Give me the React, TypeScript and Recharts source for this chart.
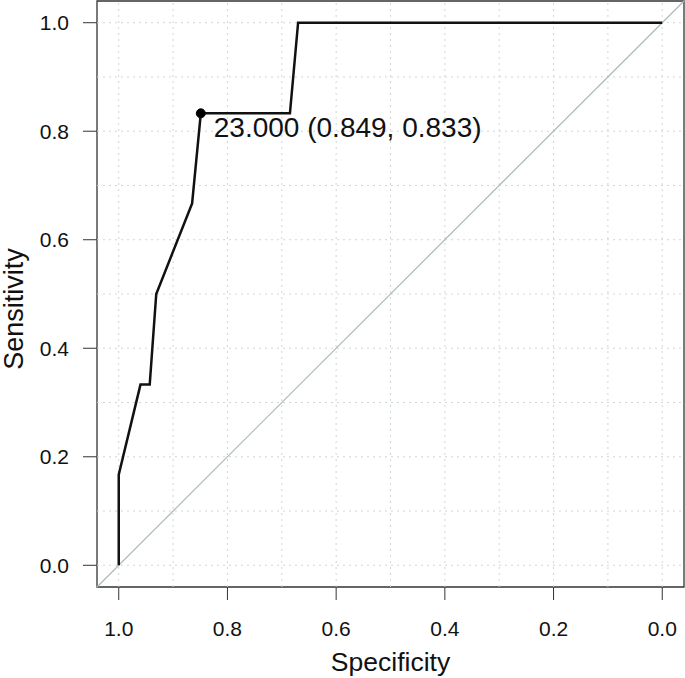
import { LineChart, Line, XAxis, YAxis, ReferenceLine, ReferenceArea, ReferenceDot } from 'recharts';

// ROC curve points, specificity going from 1 down to 0
const specificity = [1.0, 1.0, 0.96, 0.943, 0.931, 0.865, 0.849, 0.685, 0.67, 0.0];
const sensitivity = [0.0, 0.167, 0.333, 0.333, 0.5, 0.667, 0.833, 0.833, 1.0, 1.0];

const bestSpec = 0.849;
const bestSens = 0.833;
const bestLabel = '23.000 (0.849, 0.833)';

const axisTicks = [0, 0.2, 0.4, 0.6, 0.8, 1.0];
const gridVals = [0, 0.1, 0.2, 0.3, 0.4, 0.5, 0.6, 0.7, 0.8, 0.9, 1.0];
const lo = -0.04;
const hi = 1.04;

const data = specificity.map((s, i) => ({ spec: s, sens: sensitivity[i] }));

const font = '"Liberation Sans", Arial, Helvetica, sans-serif';
const axisColor = '#333';
const gridColor = '#cdd7d7';

const BestLabel = (props: any) => {
  const vb = props.viewBox || {};
  const cx = vb.x + vb.width / 2;
  const cy = vb.y + vb.height / 2;
  return (
    <text x={cx + 13} y={cy + 24} fontSize={28} fontFamily={font} fill="#111">
      {bestLabel}
    </text>
  );
};

const App = () => {
  return (
    <div style={{ position: 'absolute', left: 0, top: 0 }}>
      <LineChart
        width={685}
        height={678}
        data={data}
        margin={{ top: 1, right: 1, left: 0, bottom: 0 }}
      >
        <XAxis
          dataKey="spec"
          type="number"
          domain={[lo, hi]}
          reversed
          allowDataOverflow
          ticks={axisTicks}
          tickFormatter={(v: number) => v.toFixed(1)}
          height={91}
          axisLine={false}
          tickSize={13}
          tickMargin={21}
          tickLine={{ stroke: axisColor }}
          tick={{ fontSize: 21, fill: '#111', fontFamily: font }}
          label={{ value: 'Specificity', position: 'insideBottom', offset: 7, fontSize: 26.5, fill: '#111', fontFamily: font }}
        />
        <YAxis
          type="number"
          domain={[lo, hi]}
          allowDataOverflow
          ticks={axisTicks}
          tickFormatter={(v: number) => v.toFixed(1)}
          width={97}
          axisLine={false}
          tickSize={14}
          tickMargin={14}
          tickLine={{ stroke: axisColor }}
          tick={{ fontSize: 21, fill: '#111', fontFamily: font }}
          label={{
            content: () => (
              <text x={23} y={309} transform="rotate(-90 23 309)" textAnchor="middle" fontSize={27} fill="#111" fontFamily={font}>
                Sensitivity
              </text>
            ),
          }}
        />
        {gridVals.map((v) => (
          <ReferenceLine key={'gx' + v} x={v} stroke={gridColor} strokeDasharray="2 4" />
        ))}
        {gridVals.map((v) => (
          <ReferenceLine key={'gy' + v} y={v} stroke={gridColor} strokeDasharray="2 4" />
        ))}
        <ReferenceLine
          segment={[{ x: hi, y: lo }, { x: lo, y: hi }]}
          stroke="#a9b9b9"
          strokeWidth={1.2}
        />
        <Line
          type="linear"
          dataKey="sens"
          stroke="#111"
          strokeWidth={2.5}
          dot={false}
          activeDot={false}
          isAnimationActive={false}
        />
        <ReferenceArea x1={hi} x2={lo} y1={lo} y2={hi} fill="none" stroke={axisColor} strokeWidth={1.3} fillOpacity={0} />
        <ReferenceDot x={bestSpec} y={bestSens} r={4.5} fill="#000" stroke="#000" label={<BestLabel />} />
      </LineChart>
    </div>
  );
};

export default App;
